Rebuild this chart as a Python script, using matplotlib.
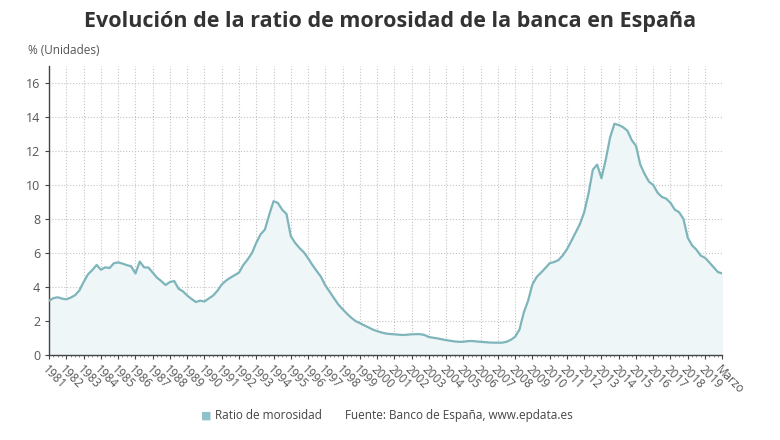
import numpy as np
import matplotlib
matplotlib.use("Agg")
import matplotlib.pyplot as plt
from matplotlib.ticker import MultipleLocator

plt.rcParams['font.family'] = ['Open Sans', 'DejaVu Sans']

# ---------------------------------------------
# datos: ratio de morosidad trimestral, 1981 - marzo
# ---------------------------------------------
ratio = [
    3.20, 3.35, 3.40, 3.32, 3.28, 3.38, 3.52, 3.80,   # 1981-1982
    4.30, 4.75, 5.00, 5.30, 5.02, 5.16, 5.12, 5.40,   # 1983-1984
    5.45, 5.38, 5.29, 5.22, 4.80, 5.50, 5.16, 5.15,   # 1985-1986
    4.85, 4.55, 4.35, 4.12, 4.30, 4.35, 3.90, 3.75,   # 1987-1988
    3.50, 3.30, 3.12, 3.20, 3.15, 3.33, 3.50, 3.78,   # 1989-1990
    4.15, 4.38, 4.55, 4.70, 4.85, 5.30, 5.62, 6.00,   # 1991-1992
    6.60, 7.10, 7.38, 8.25, 9.05, 8.95, 8.55, 8.30,   # 1993-1994
    7.00, 6.60, 6.30, 6.05, 5.70, 5.30, 4.95, 4.60,   # 1995-1996
    4.10, 3.72, 3.35, 2.98, 2.70, 2.44, 2.20, 2.00,   # 1997-1998
    1.88, 1.75, 1.63, 1.50, 1.41, 1.33, 1.27, 1.24,   # 1999-2000
    1.22, 1.20, 1.18, 1.20, 1.22, 1.23, 1.23, 1.18,   # 2001-2002
    1.06, 1.02, 0.98, 0.93, 0.88, 0.84, 0.80, 0.78,   # 2003-2004
    0.78, 0.82, 0.83, 0.80, 0.78, 0.76, 0.74, 0.73,   # 2005-2006
    0.73, 0.73, 0.78, 0.90, 1.08, 1.50, 2.50, 3.20,   # 2007-2008
    4.15, 4.60, 4.85, 5.12, 5.40, 5.47, 5.58, 5.85,   # 2009-2010
    6.22, 6.70, 7.20, 7.70, 8.40, 9.50, 10.90, 11.20, # 2011-2012
    10.40, 11.50, 12.80, 13.60, 13.53, 13.40, 13.20, 12.65,  # 2013-2014
    12.30, 11.20, 10.65, 10.20, 10.00, 9.55, 9.30, 9.20,     # 2015-2016
    8.95, 8.55, 8.40, 8.00, 6.90, 6.45, 6.20, 5.85,   # 2017-2018
    5.72, 5.45, 5.16, 4.88, 4.80,                     # 2019 - marzo
]
etiquetas = [str(a) for a in range(1981, 2020)] + ["Marzo"]

x = np.arange(len(ratio)) / 4.0

color_linea = '#7db5bb'
color_relleno = '#eef6f8'
gris = '#555555'

# ---------------------------------------------
# figura
# ---------------------------------------------
fig = plt.figure(figsize=(7.8, 4.4), dpi=100)
ax = fig.add_axes([0.063, 0.193, 0.863, 0.657])

ax.fill_between(x, ratio, 0, color=color_relleno, zorder=1)
ax.plot(x, ratio, color=color_linea, linewidth=1.6, zorder=3)

ax.set_xlim(0, len(etiquetas) - 1)
ax.set_ylim(0, 17)
ax.set_yticks(range(0, 17, 2))
ax.set_xticks(range(len(etiquetas)))
ax.set_xticklabels(etiquetas, rotation=-45, ha='left', va='top',
                   rotation_mode='anchor', fontsize=8.5, color=gris)
ax.xaxis.set_minor_locator(MultipleLocator(0.25))
ax.tick_params(axis='y', labelsize=9, labelcolor=gris, length=3, color='#444444')
ax.tick_params(axis='x', which='major', length=3, color='#444444', pad=3)
ax.tick_params(axis='x', which='minor', length=1.5, color='#777777')

ax.grid(True, which='major', linestyle=':', color='#c4c4c4', linewidth=0.8, zorder=0)
ax.set_axisbelow(True)

for s in ['top', 'right']:
    ax.spines[s].set_visible(False)
for s in ['left', 'bottom']:
    ax.spines[s].set_color('#444444')
    ax.spines[s].set_linewidth(1.0)

# textos
fig.text(0.5, 0.95, 'Evolución de la ratio de morosidad de la banca en España',
         ha='center', va='center', fontsize=15.5, fontweight='bold', color='#333333')
fig.text(0.036, 0.886, '% (Unidades)', ha='left', va='center', fontsize=8.5, color=gris)

# leyenda manual
fig.text(0.258, 0.055, '\u25a0', ha='left', va='center', fontsize=8, color='#8fc3c9')
fig.text(0.275, 0.055, 'Ratio de morosidad', ha='left', va='center', fontsize=8.5, color='#444444')
fig.text(0.442, 0.055, 'Fuente: Banco de España, www.epdata.es', ha='left', va='center',
         fontsize=8.5, color='#444444')

fig.savefig('out.png', dpi=100, facecolor='white')
